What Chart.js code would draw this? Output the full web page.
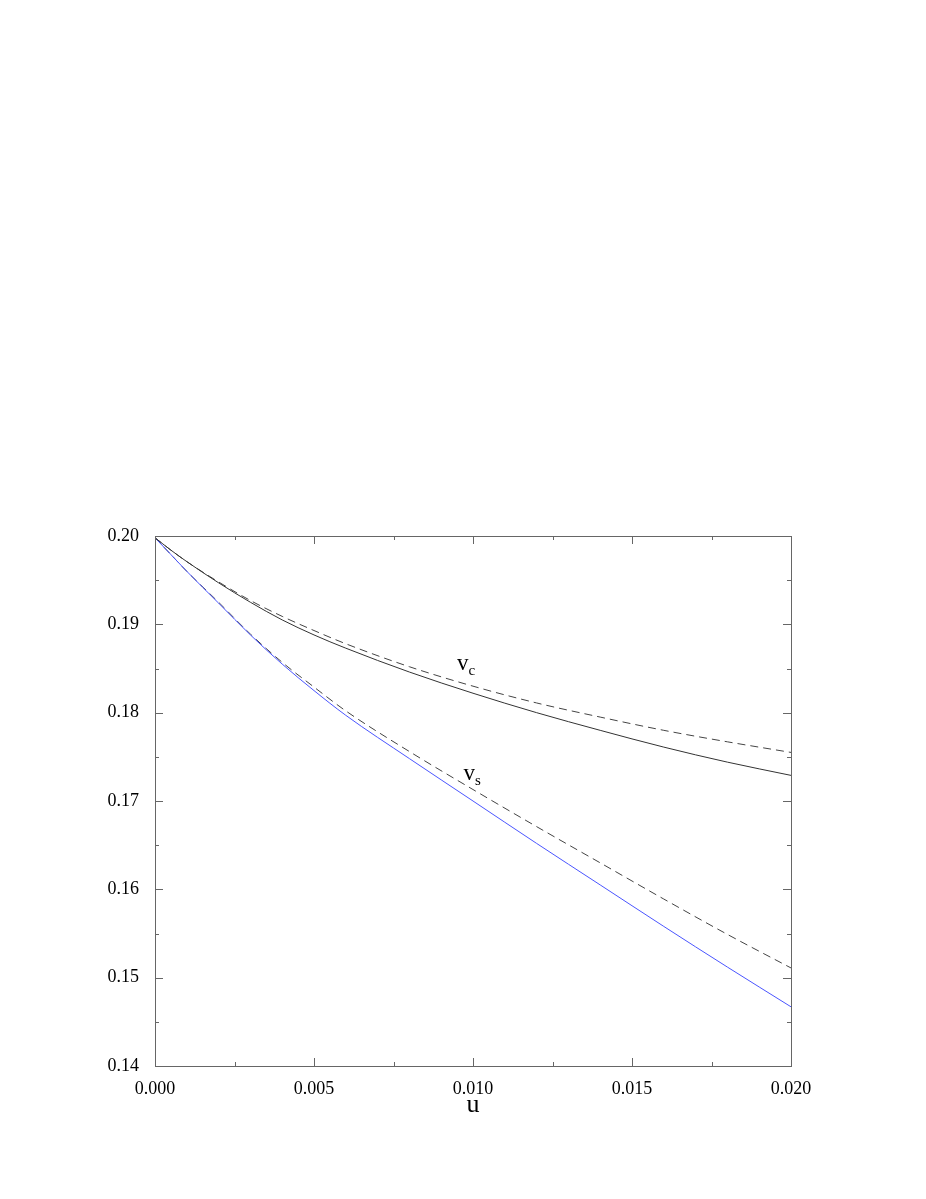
<!DOCTYPE html>
<html>
<head>
<meta charset="utf-8">
<script src="https://cdn.jsdelivr.net/npm/chart.js@4"></script>
<style>
	body { margin: 0; background: #fff; }
	#chart { display: block; }
</style>
</head>
<body>
<canvas id="chart" width="926" height="1199"></canvas>
<script>
const u = [0, 0.0005, 0.001, 0.002, 0.003, 0.004, 0.005, 0.006, 0.008, 0.010, 0.012, 0.014, 0.016, 0.018, 0.020];
const vcExact = [0.1998, 0.1984, 0.1971, 0.1947, 0.1925, 0.1905, 0.1888, 0.1873, 0.1846, 0.1822, 0.1800, 0.1780, 0.1761, 0.1744, 0.1729];
const vcApprox = [0.1998, 0.1984, 0.1971, 0.1948, 0.1927, 0.1909, 0.1893, 0.1878, 0.1852, 0.1830, 0.1811, 0.1795, 0.1780, 0.1767, 0.1755];
const vsExact = [0.1998, 0.1979, 0.1960, 0.1924, 0.1888, 0.1855, 0.1825, 0.1797, 0.1748, 0.1700, 0.1652, 0.1605, 0.1558, 0.1512, 0.1467];
const vsApprox = [0.1998, 0.1979, 0.1960, 0.1925, 0.1889, 0.1857, 0.1829, 0.1802, 0.1756, 0.1713, 0.1671, 0.1630, 0.1589, 0.1549, 0.1511];

const xMajor = [0, 0.005, 0.010, 0.015, 0.020];
const xMinor = [0.0025, 0.0075, 0.0125, 0.0175];
const yMajor = [0.14, 0.15, 0.16, 0.17, 0.18, 0.19, 0.20];
const yMinor = [0.145, 0.155, 0.165, 0.175, 0.185, 0.195];

const serif = "'Liberation Serif', 'Times New Roman', serif";

function pts(ys) {
	return u.map((x, i) => ({ x: x, y: ys[i] }));
}

function line(ys, color, dash) {
	return {
		data: pts(ys),
		borderColor: color,
		borderWidth: 1,
		borderDash: dash,
		pointRadius: 0,
		cubicInterpolationMode: 'monotone',
		fill: false
	};
}

// frame, inward ticks on all four sides, and the curve labels
const frame = {
	id: 'frame',
	afterDraw(chart) {
		const c = chart.ctx;
		const a = chart.chartArea;
		const xs = chart.scales.x;
		const ys = chart.scales.y;
		c.save();
		c.strokeStyle = '#666';
		c.lineWidth = 1;
		c.strokeRect(a.left + 0.5, a.top + 0.5, a.right - a.left, a.bottom - a.top);
		c.beginPath();
		const tx = (v, len) => {
			const p = Math.round(xs.getPixelForValue(v)) + 0.5;
			c.moveTo(p, a.bottom); c.lineTo(p, a.bottom - len);
			c.moveTo(p, a.top); c.lineTo(p, a.top + len);
		};
		const ty = (v, len) => {
			const p = Math.round(ys.getPixelForValue(v)) + 0.5;
			c.moveTo(a.left, p); c.lineTo(a.left + len, p);
			c.moveTo(a.right, p); c.lineTo(a.right - len, p);
		};
		xMajor.forEach(v => tx(v, 8));
		xMinor.forEach(v => tx(v, 4));
		yMajor.forEach(v => ty(v, 8));
		yMinor.forEach(v => ty(v, 4));
		c.stroke();

		c.fillStyle = '#000';
		c.textBaseline = 'alphabetic';
		const lab = (x, y, sub) => {
			const px = xs.getPixelForValue(x);
			const py = ys.getPixelForValue(y);
			c.font = '23px ' + serif;
			c.fillText('v', px, py);
			const w = c.measureText('v').width;
			c.font = '15px ' + serif;
			c.fillText(sub, px + w, py + 5);
		};
		lab(0.0095, 0.1848, 'c');
		lab(0.0097, 0.1724, 's');
		c.restore();
	}
};

new Chart(document.querySelector('#chart'), {
	type: 'line',
	data: {
		datasets: [
			line(vcExact, '#333', []),
			line(vcApprox, '#444', [8, 5]),
			line(vsExact, '#4a55ff', []),
			line(vsApprox, '#444', [8, 5])
		]
	},
	options: {
		responsive: false,
		animation: false,
		layout: {
			padding: { left: 95, right: 135, top: 536, bottom: 78 }
		},
		plugins: {
			legend: { display: false },
			tooltip: { enabled: false }
		},
		scales: {
			x: {
				type: 'linear',
				min: 0,
				max: 0.02,
				grid: { display: false },
				border: { display: false },
				afterFit: s => { s.height = 55; },
				ticks: {
					stepSize: 0.005,
					padding: 4,
					color: '#000',
					maxRotation: 0,
					font: { family: serif, size: 18 },
					callback: v => v.toFixed(3)
				},
				title: {
					display: true,
					text: 'u',
					color: '#000',
					padding: { top: 4, bottom: 0 },
					font: { family: serif, size: 26 }
				}
			},
			y: {
				min: 0.14,
				max: 0.20,
				grid: { display: false },
				border: { display: false },
				afterFit: s => { s.width = 60; },
				ticks: {
					stepSize: 0.01,
					padding: 8,
					color: '#000',
					font: { family: serif, size: 18 },
					callback: v => v.toFixed(2)
				}
			}
		}
	},
	plugins: [frame]
});
</script>
</body>
</html>
